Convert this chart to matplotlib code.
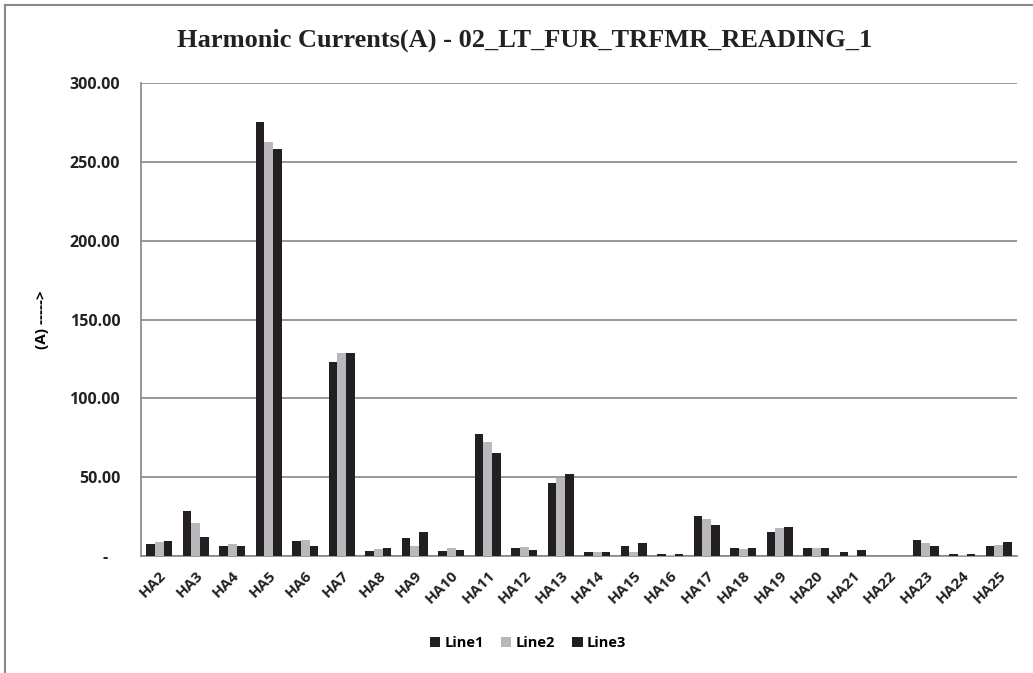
import numpy as np
import matplotlib.pyplot as plt

# harmonic order labels
labels = ["HA%d" % i for i in range(2, 26)]

line1 = [7.6, 28.3, 6.4, 275.5, 9.6, 123.0, 3.4, 11.5, 3.4, 77.2, 5.1, 46.4,
         2.4, 6.4, 1.3, 25.6, 5.3, 15.1, 5.1, 2.6, 0.0, 10.0, 1.3, 6.2]
line2 = [8.9, 21.0, 7.4, 262.4, 10.2, 129.0, 4.7, 6.2, 4.9, 72.1, 6.0, 49.6,
         2.4, 2.4, 0.9, 23.7, 4.7, 17.5, 4.9, 0.9, 0.0, 8.5, 0.9, 7.2]
line3 = [9.8, 12.1, 6.4, 258.1, 6.4, 129.0, 5.3, 15.5, 4.0, 65.1, 4.0, 52.1,
         2.6, 8.1, 1.5, 19.7, 5.3, 18.4, 5.3, 4.0, 0.0, 6.4, 1.5, 9.0]

dark = "#231f20"
light = "#b9b9bd"
grid_col = "#868686"
sans = "Open Sans"

fig = plt.figure(figsize=(10.33, 6.73), dpi=100)
ax = fig.add_axes([141 / 1033, 1 - 556 / 673, 876 / 1033, 473 / 673])

x = np.arange(len(labels))
w = 0.24
ax.bar(x - w, line1, w, color=dark, label="Line1", zorder=3)
ax.bar(x, line2, w, color=light, label="Line2", zorder=3)
ax.bar(x + w, line3, w, color=dark, label="Line3", zorder=3)

ax.set_xlim(-0.5, len(labels) - 0.5)
ax.set_ylim(0, 300)
ax.set_yticks(np.arange(0, 301, 50))
# accounting style: zero shown as a dash
ax.set_yticklabels(["-   "] + ["%.2f" % v for v in np.arange(50, 301, 50)],
                   fontsize=11.5, fontweight="bold", family=sans, color="#222222")
ax.set_xticks(x)
ax.set_xticklabels(labels, rotation=45, ha="right", rotation_mode="anchor",
                   fontsize=11, fontweight="bold", family=sans, color="#222222")
ax.tick_params(axis="y", length=0, pad=15)
ax.tick_params(axis="x", length=0, pad=9)

ax.yaxis.grid(True, color=grid_col, linewidth=1.2, zorder=0)
for s in ["top", "right"]:
    ax.spines[s].set_visible(False)
for s in ["left", "bottom"]:
    ax.spines[s].set_color(grid_col)
    ax.spines[s].set_linewidth(1.2)

ax.set_ylabel("(A) ----->", fontsize=11, fontweight="bold", family=sans, labelpad=15)

fig.suptitle("Harmonic Currents(A) - 02_LT_FUR_TRFMR_READING_1", x=525 / 1033, y=1 - 40 / 673,
             va="center", fontsize=19, fontweight="bold", family="Liberation Serif", color="#222222")

leg = fig.legend(loc="center", bbox_to_anchor=(528 / 1033, 1 - 643 / 673), ncol=3, frameon=False,
                 handlelength=0.7, handleheight=0.7, handletextpad=0.3, columnspacing=1.2,
                 prop={"family": sans, "weight": "bold", "size": 10.5})

# chart area frame (top and left edges visible)
fig.add_artist(plt.Line2D([5 / 1033, 5 / 1033], [0, 1 - 5 / 673], color="#8a8a8a", linewidth=1.5,
                          transform=fig.transFigure))
fig.add_artist(plt.Line2D([5 / 1033, 1], [1 - 5 / 673, 1 - 5 / 673], color="#8a8a8a", linewidth=1.5,
                          transform=fig.transFigure))

fig.savefig("out.png", dpi=100)
